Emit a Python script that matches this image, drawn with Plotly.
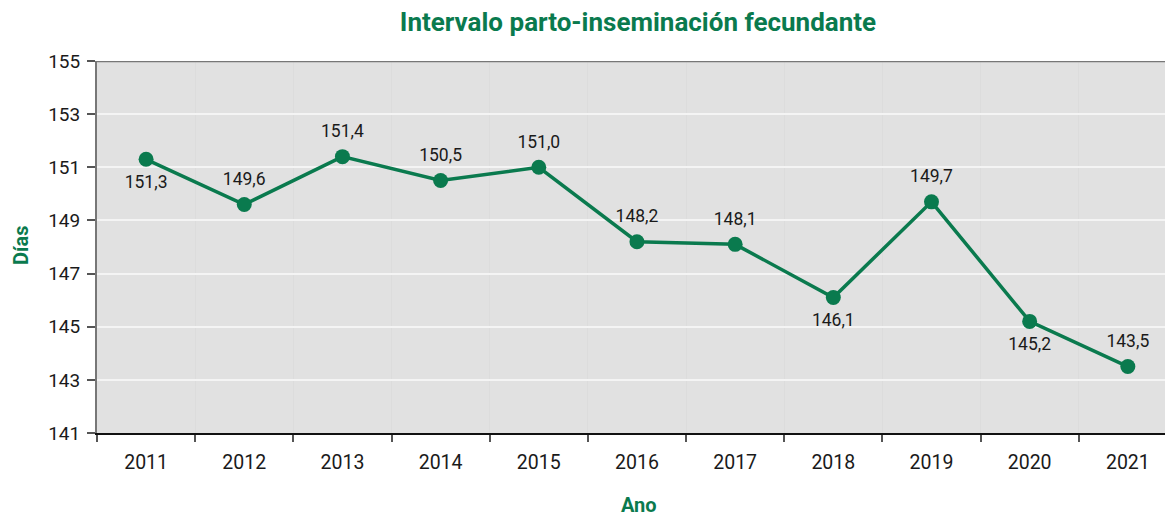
import plotly.graph_objects as go

years = ["2011", "2012", "2013", "2014", "2015", "2016", "2017", "2018", "2019", "2020", "2021"]
dias = [151.3, 149.6, 151.4, 150.5, 151.0, 148.2, 148.1, 146.1, 149.7, 145.2, 143.5]
y_ticks = [141, 143, 145, 147, 149, 151, 153, 155]

label_pos = ["bottom center", "top center", "top center", "top center", "top center",
             "top center", "top center", "bottom center", "top center", "bottom center",
             "top center"]

GREEN = "#0a7a4e"
FONT = "Roboto"

labels = [f"{v:.1f}".replace(".", ",") for v in dias]

fig = go.Figure()
fig.add_trace(go.Scatter(
    x=years, y=dias,
    mode="lines+markers",
    line=dict(color=GREEN, width=3.5),
    marker=dict(color=GREEN, size=15),
    cliponaxis=False,
    showlegend=False,
))
# value labels (invisible larger markers give the labels extra offset)
fig.add_trace(go.Scatter(
    x=years, y=dias,
    mode="markers+text",
    marker=dict(color=GREEN, size=23, opacity=0),
    text=labels,
    textposition=label_pos,
    textfont=dict(family=FONT, size=17.5, color="#1a1a1a"),
    cliponaxis=False,
    hoverinfo="skip",
    showlegend=False,
))

W, H = 1165, 509
fig.update_layout(
    width=W, height=H,
    margin=dict(l=89, r=0, t=53, b=84),
    paper_bgcolor="white",
    plot_bgcolor="#e1e1e1",
    title=dict(text="<b>Intervalo parto-inseminación fecundante</b>",
               font=dict(family=FONT, size=26, color=GREEN),
               x=630 / W, xanchor="center", xref="container",
               y=1 - 14 / H, yanchor="middle", yref="container"),
    font=dict(family=FONT, size=19, color="#1a1a1a"),
    xaxis=dict(
        type="category",
        range=[-0.5, 10.46],
        tickson="boundaries",
        ticks="outside", ticklen=7, tickcolor="#555", tickwidth=1.5,
        showline=True, linecolor="#111", linewidth=2,
        showgrid=True, gridcolor="#dcdcdc", gridwidth=1,
        ticklabelstandoff=11,
        tickfont=dict(family=FONT, size=19.5, color="#1a1a1a"),
    ),
    yaxis=dict(
        range=[141, 155],
        tickvals=y_ticks,
        ticktext=[str(t) for t in y_ticks],
        ticks="outside", ticklen=8, tickcolor="#555", tickwidth=1.5,
        showline=True, linecolor="#777", linewidth=2,
        showgrid=True, gridcolor="#f4f4f4", gridwidth=1.5,
        zeroline=False,
        ticklabelstandoff=3,
        tickfont=dict(family=FONT, size=19, color="#1a1a1a"),
    ),
)

# top border
fig.add_shape(type="line", xref="paper", yref="y", x0=0, x1=1, y0=155, y1=155,
              line=dict(color="#777", width=2.5), layer="above")

fig.add_annotation(text="<b>Días</b>", xref="paper", yref="paper",
                   x=(13 - 89) / 1076, y=(425 - 238) / 372, textangle=-90, showarrow=False,
                   font=dict(family=FONT, size=20, color=GREEN),
                   xanchor="center", yanchor="middle")
fig.add_annotation(text="<b>Ano</b>", xref="paper", yref="paper",
                   x=(631 - 89) / 1076, y=-(497 - 425) / 372, showarrow=False,
                   font=dict(family=FONT, size=20, color=GREEN),
                   xanchor="center", yanchor="middle")

fig.write_html("out.html")
